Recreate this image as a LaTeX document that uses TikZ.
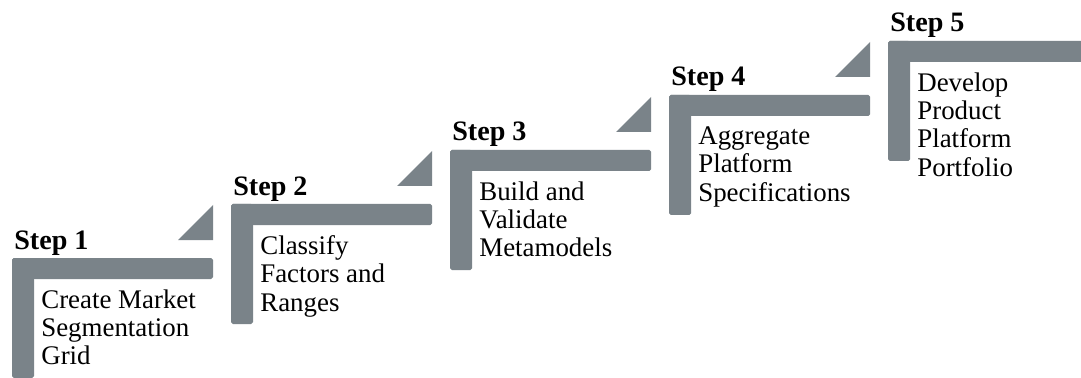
\documentclass[tikz,border=0pt]{standalone}
\usepackage{fontspec}
\setmainfont{Liberation Serif}
\usepackage{xcolor}
\usetikzlibrary{positioning}
\definecolor{stairgray}{RGB}{122,131,137}

\begin{document}
\begin{tikzpicture}[
  x=0.02cm, y=-0.02cm,
  bar/.style={fill=stairgray, rounded corners=1pt},
  wedge/.style={fill=stairgray},
  steplabel/.style={anchor=base west, inner sep=0pt, font=\fontsize{16}{18}\selectfont\bfseries},
  task/.style={anchor=north west, inner sep=0pt, align=left, font=\fontsize{15.3}{16.2}\selectfont},
  ]
  \useasboundingbox (0,0) rectangle (1081,378);
  \clip (0,0) rectangle (1081,378);

  % corner of each stair
  \coordinate (s1) at (12,258);
  \coordinate (s2) at (231,204);
  \coordinate (s3) at (450,150);
  \coordinate (s4) at (669,95);
  \coordinate (s5) at (888,41);

  % Step 1
  \fill[bar] (s1) rectangle ++(201,21);
  \fill[bar] (s1) rectangle ++(22,120);
  \fill[wedge] ([shift={(166,-18)}]s1) -- ++(35,0) -- ++(0,-35) -- cycle;
  \node[steplabel] (lab1) at ([shift={(2,-9)}]s1) {Step 1};
  \node[task] (task1) at ([shift={(29,31)}]s1) {Create Market\\Segmentation\\Grid};

  % Step 2
  \fill[bar] (s2) rectangle ++(201,21);
  \fill[bar] (s2) rectangle ++(22,120);
  \fill[wedge] ([shift={(166,-18)}]s2) -- ++(35,0) -- ++(0,-35) -- cycle;
  \node[steplabel] (lab2) at ([shift={(2,-9)}]s2) {Step 2};
  \node[task] (task2) at ([shift={(29,31)}]s2) {Classify\\Factors and\\Ranges};

  % Step 3
  \fill[bar] (s3) rectangle ++(201,21);
  \fill[bar] (s3) rectangle ++(22,120);
  \fill[wedge] ([shift={(166,-18)}]s3) -- ++(35,0) -- ++(0,-35) -- cycle;
  \node[steplabel] (lab3) at ([shift={(2,-9)}]s3) {Step 3};
  \node[task] (task3) at ([shift={(29,31)}]s3) {Build and\\Validate\\Metamodels};

  % Step 4
  \fill[bar] (s4) rectangle ++(201,21);
  \fill[bar] (s4) rectangle ++(22,120);
  \fill[wedge] ([shift={(166,-18)}]s4) -- ++(35,0) -- ++(0,-35) -- cycle;
  \node[steplabel] (lab4) at ([shift={(2,-9)}]s4) {Step 4};
  \node[task] (task4) at ([shift={(29,31)}]s4) {Aggregate\\Platform\\Specifications};

  % Step 5 (runs off the right edge)
  \fill[bar] (s5) rectangle ++(201,21);
  \fill[bar] (s5) rectangle ++(22,120);
  \node[steplabel] (lab5) at ([shift={(2,-9)}]s5) {Step 5};
  \node[task] (task5) at ([shift={(29,31)}]s5) {Develop\\Product\\Platform\\Portfolio};
\end{tikzpicture}
\end{document}
